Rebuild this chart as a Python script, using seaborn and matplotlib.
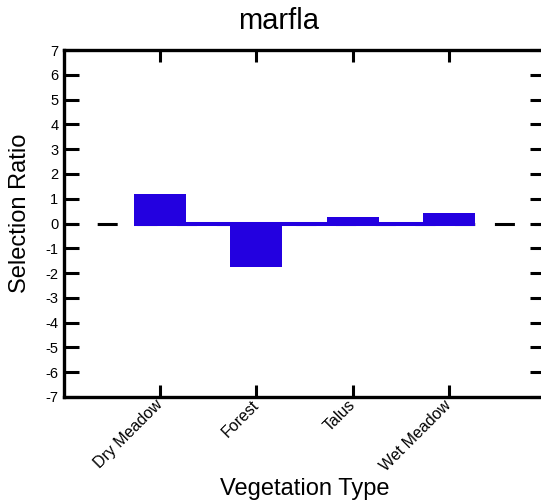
import matplotlib
matplotlib.use("Agg")
import matplotlib.pyplot as plt
import seaborn as sns
import pandas as pd

# Selection ratio per vegetation type for species "marfla"
title = "marfla"
categories = ["Dry Meadow", "Forest", "Talus", "Wet Meadow"]
ratios = [1.18, -1.75, 0.27, 0.44]
y_ticks = list(range(-7, 8))

sns.set_theme(style="white")
plt.rcParams["font.family"] = ["Liberation Sans", "DejaVu Sans"]
plt.rcParams["lines.scale_dashes"] = False
plt.rcParams["text.color"] = "black"
plt.rcParams["axes.labelcolor"] = "black"
plt.rcParams["xtick.color"] = "black"
plt.rcParams["ytick.color"] = "black"

bar_color = "#2300E0"
bar_width = 0.54

df = pd.DataFrame({"Vegetation Type": categories, "Selection Ratio": ratios})

fig = plt.figure(figsize=(5.41, 5.01), dpi=100)
ax = fig.add_axes([64 / 541, 104 / 501, 481 / 541, 347 / 501])

# dashed reference line at zero across the whole panel
ax.axhline(0, color="black", lw=2.2, linestyle=(4.7, (14.4, 14.2)), zorder=0.5)

# solid baseline joining the bars
n = len(categories)
ax.hlines(0, -bar_width / 2, (n - 1) + bar_width / 2, color=bar_color, lw=2.9, zorder=0.9)

sns.barplot(data=df, x="Vegetation Type", y="Selection Ratio", color=bar_color,
            saturation=1, width=bar_width, linewidth=0, ax=ax, zorder=1)

ax.set_xlim(-1, n)
ax.set_ylim(y_ticks[0], y_ticks[-1])
ax.set_yticks(y_ticks)
ax.set_yticklabels([str(t) for t in y_ticks], fontsize=10.5, color="black")
ax.set_xticks(range(n))
ax.set_xticklabels(categories, fontsize=11.5, rotation=45, ha="right", va="center",
                   rotation_mode="anchor", color="black")

for side in ["left", "right", "top", "bottom"]:
    ax.spines[side].set_visible(True)
    ax.spines[side].set_linewidth(2.4)
    ax.spines[side].set_color("black")

ax.tick_params(axis="y", which="both", direction="in", left=True, right=True,
               length=11, width=2.2, pad=4, colors="black")
ax.tick_params(axis="x", which="both", direction="in", bottom=True, top=True,
               length=8.5, width=2.2, pad=4, colors="black")

ax.set_xlabel("Vegetation Type", fontsize=17, color="black", va="baseline")
ax.xaxis.set_label_coords(0.5, -0.282)
ax.set_ylabel("Selection Ratio", fontsize=17, color="black")
ax.yaxis.set_label_coords(-0.068, 0.53)

ax.set_title(title, fontsize=21, x=(279 - 64) / 481, y=1.06, va="baseline", pad=0,
             color="black")

fig.savefig("out.png", dpi=100)
